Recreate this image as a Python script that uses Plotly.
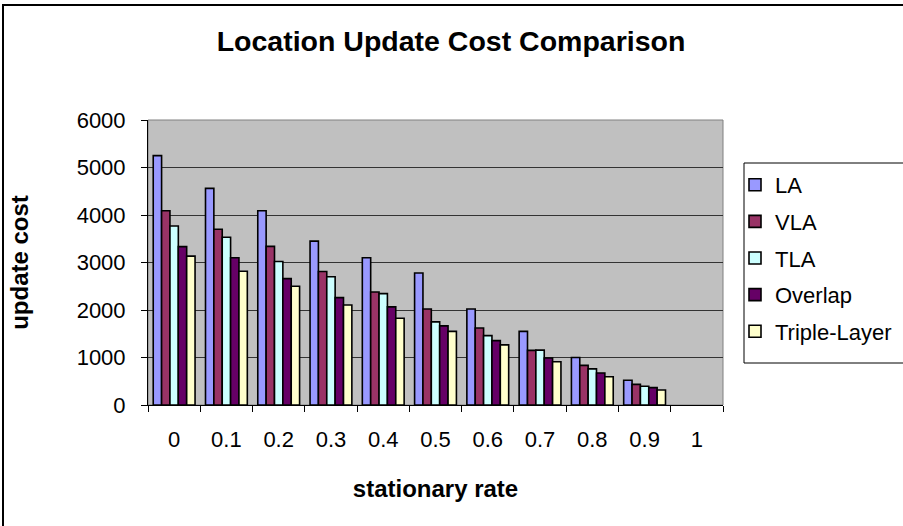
import plotly.graph_objects as go

categories = ["0", "0.1", "0.2", "0.3", "0.4", "0.5", "0.6", "0.7", "0.8", "0.9", "1"]
la = [5250, 4560, 4090, 3450, 3100, 2780, 2020, 1550, 1000, 520, None]
vla = [4090, 3700, 3340, 2810, 2380, 2020, 1620, 1150, 835, 435, None]
tla = [3770, 3530, 3020, 2700, 2345, 1750, 1460, 1155, 760, 395, None]
overlap = [3335, 3100, 2660, 2260, 2065, 1665, 1355, 990, 675, 365, None]
triple = [3135, 2815, 2500, 2105, 1825, 1550, 1265, 910, 595, 315, None]

series = [
    ("LA", la, "#9999FF"),
    ("VLA", vla, "#993366"),
    ("TLA", tla, "#CCFFFF"),
    ("Overlap", overlap, "#660066"),
    ("Triple-Layer", triple, "#FFFFCC"),
]

fig = go.Figure()
for name, vals, col in series:
    fig.add_trace(go.Bar(
        x=categories, y=vals, name=name, legendgroup=name,
        marker=dict(color=col, line=dict(color="black", width=1.6)),
    ))

L, R, T, B = 148, 723, 120, 405
W, H = 903, 526
pw, ph = R - L, B - T

def px(x):
    return (x - L) / pw

def py(y):
    return (B - y) / ph

fig.update_layout(
    width=W, height=H,
    margin=dict(l=L, r=W - R, t=T, b=H - B, pad=0, autoexpand=False),
    paper_bgcolor="white",
    plot_bgcolor="#C0C0C0",
    font=dict(family="Liberation Sans, Arial, sans-serif", size=22, color="black"),
    barmode="group",
    bargap=0.2,
    bargroupgap=0,
    title=dict(text="<b>Location Update Cost Comparison</b>", x=451 / W, xref="container",
               xanchor="center", y=1 - 41 / H, yref="container", yanchor="middle",
               font=dict(size=28.5, color="black")),
    showlegend=True,
    legend=dict(x=px(735), y=py(164), xanchor="left", yanchor="top",
                bgcolor="rgba(0,0,0,0)", borderwidth=0,
                font=dict(size=22), tracegroupgap=5, itemwidth=30),
    xaxis=dict(
        type="category", tickson="boundaries", ticks="outside", ticklen=6,
        tickcolor="black", showline=True, linecolor="black", linewidth=1,
        showgrid=False, ticklabelstandoff=15,
        title=dict(text="<b>stationary rate</b>", font=dict(size=24), standoff=28),
    ),
    yaxis=dict(
        range=[0, 6000], dtick=1000, ticks="outside", ticklen=6, tickcolor="black",
        showline=True, linecolor="black", linewidth=1,
        showgrid=True, gridcolor="#333333", gridwidth=1,
        ticklabelstandoff=11, zeroline=False,
        title=dict(text="<b>update cost</b>", font=dict(size=24), standoff=41),
    ),
    shapes=[
        dict(type="rect", xref="paper", yref="paper", x0=0, x1=1, y0=0, y1=1,
             line=dict(color="#808080", width=1), layer="below"),
        dict(type="rect", xref="paper", yref="paper",
             x0=px(3), x1=px(960), y0=py(560), y1=py(5),
             line=dict(color="black", width=2), layer="below"),
        dict(type="rect", xref="paper", yref="paper",
             x0=px(744), x1=px(960), y0=py(363), y1=py(163),
             line=dict(color="black", width=1), layer="below"),
    ],
)

fig.write_html("out.html", config={"displayModeBar": False},
               post_script="document.body.style.margin='0px';")
